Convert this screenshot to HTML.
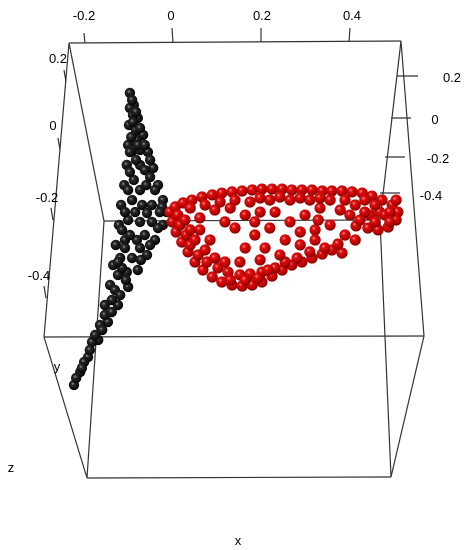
<!DOCTYPE html>
<html><head><meta charset="utf-8"><style>
html,body{margin:0;padding:0;background:#fff;}
svg{display:block;font-family:"Liberation Sans",sans-serif;font-size:13px;}
</style></head><body>
<svg id="chart" width="467" height="550" viewBox="0 0 467 550" xmlns="http://www.w3.org/2000/svg">
<defs>
<radialGradient id="gRed" cx="0.38" cy="0.35" r="0.65">
<stop offset="0" stop-color="#ff9a9a"/><stop offset="0.25" stop-color="#e01010"/><stop offset="0.8" stop-color="#b00000"/><stop offset="1" stop-color="#700000"/>
</radialGradient>
<radialGradient id="gBlk" cx="0.4" cy="0.38" r="0.65">
<stop offset="0" stop-color="#9a9a9a"/><stop offset="0.25" stop-color="#2a2a2a"/><stop offset="1" stop-color="#000"/>
</radialGradient>
</defs>
<g stroke="#333" stroke-width="1.2" fill="none">
<line x1="69" y1="43" x2="401" y2="41"/>
<line x1="104" y1="221" x2="380" y2="220"/>
<line x1="44" y1="337" x2="424" y2="336"/>
<line x1="87" y1="478" x2="391" y2="477"/>
<line x1="69" y1="43" x2="104" y2="221"/>
<line x1="69" y1="43" x2="44" y2="337"/>
<line x1="104" y1="221" x2="87" y2="478"/>
<line x1="44" y1="337" x2="87" y2="478"/>
<line x1="401" y1="41" x2="380" y2="220"/>
<line x1="401" y1="41" x2="424" y2="336"/>
<line x1="380" y1="220" x2="391" y2="477"/>
<line x1="424" y1="336" x2="391" y2="477"/>
</g>
<g stroke="#333" stroke-width="1.2">
<line x1="84" y1="33" x2="85" y2="43"/><line x1="172" y1="28" x2="173" y2="43"/>
<line x1="261" y1="28" x2="261" y2="42"/><line x1="350" y1="28" x2="349" y2="42"/>
</g>
<g text-anchor="middle">
<text x="84" y="20">-0.2</text><text x="171" y="20">0</text><text x="262" y="20">0.2</text><text x="352" y="20">0.4</text>
</g>
<g stroke="#333" stroke-width="1.2">
<line x1="397" y1="76" x2="418" y2="76"/><line x1="391" y1="118" x2="411" y2="118"/>
<line x1="385" y1="157" x2="405" y2="157"/><line x1="380" y1="193" x2="400" y2="193"/>
</g>
<g text-anchor="middle">
<text x="452" y="82">0.2</text><text x="435" y="124">0</text><text x="438" y="163">-0.2</text><text x="431" y="200">-0.4</text>
</g>
<g stroke="#333" stroke-width="1.2">
<line x1="64" y1="70" x2="66" y2="82"/><line x1="58" y1="138" x2="60" y2="150"/>
<line x1="51" y1="208" x2="53" y2="220"/><line x1="44" y1="286" x2="46" y2="298"/>
</g>
<g text-anchor="middle">
<text x="58" y="63">0.2</text><text x="53" y="130">0</text><text x="47" y="202">-0.2</text><text x="39" y="280">-0.4</text>
</g>
<text x="57" y="371" text-anchor="middle">y</text>
<text x="11" y="472" text-anchor="middle">z</text>
<text x="238" y="545" text-anchor="middle">x</text>
<g id="marks"></g>
</svg>
<script>
const blackX=[-0.098,-0.089,-0.080,-0.068,-0.057,-0.045,-0.034,-0.023,-0.014,-0.023,-0.041,-0.059,-0.080,-0.102,-0.125,-0.148,-0.170,-0.193,-0.211,-0.225,
-0.098,-0.100,-0.102,-0.105,-0.111,-0.118,-0.123,-0.130,-0.136,-0.143,-0.155,
-0.084,-0.089,-0.075,-0.089,-0.061,-0.093,-0.070,-0.048,-0.102,-0.075,-0.048,-0.109,-0.082,-0.120,-0.093,-0.125,-0.105,-0.132,-0.166,-0.184,-0.202,-0.075,-0.064,-0.098,-0.064,-0.109,-0.075,-0.116,-0.139,-0.155,-0.177,-0.091,-0.082,
-0.093,-0.084,-0.091,-0.075,-0.095,-0.080,-0.064,-0.098,-0.052,-0.084,-0.098,-0.052,-0.075,-0.041,-0.102,-0.025,-0.109,-0.086,-0.059,-0.030,-0.034,-0.116,-0.052,-0.125,-0.073,-0.107,-0.120,-0.139,-0.161,-0.189,-0.207,-0.220];
const blackZ=[0.132,0.068,0,-0.089,-0.179,-0.263,-0.353,-0.432,-0.495,-0.563,-0.642,-0.721,-0.8,-0.889,-0.984,-1.074,-1.168,-1.258,-1.337,-1.405,
0.053,-0.037,-0.142,-0.247,-0.353,-0.458,-0.563,-0.668,-0.774,-0.879,-0.984,
-0.063,-0.168,-0.247,-0.326,-0.353,-0.432,-0.458,-0.458,-0.537,-0.547,-0.547,-0.642,-0.642,-0.737,-0.737,-0.826,-0.811,-0.905,-1.089,-1.179,-1.284,-0.168,-0.274,-0.616,-0.616,-0.684,-0.684,-0.789,-0.958,-1.037,-1.142,0.016,-0.116,
0.095,0.032,-0.021,-0.053,-0.100,-0.142,-0.142,-0.179,-0.221,-0.221,-0.284,-0.311,-0.379,-0.379,-0.379,-0.468,-0.495,-0.495,-0.500,-0.495,-0.579,-0.589,-0.668,-0.758,-0.747,-0.853,-0.932,-1.021,-1.116,-1.221,-1.316,-1.368];
const redX=[-0.007,0.005,0.023,0.043,0.066,0.089,0.111,0.134,0.157,0.180,0.202,0.225,0.248,0.270,0.293,0.316,0.339,0.361,0.384,0.407,0.430,0.452,0.475,0.498,0.511,0.507,0.489,0.466,0.443,0.416,
-0.002,0.007,0.020,0.034,0.050,0.068,0.089,0.111,0.134,0.157,0.180,0.202,0.225,0.248,0.270,0.293,0.316,0.339,0.361,0.384,
0.039,0.057,0.077,0.102,0.125,0.152,0.175,0.202,0.232,0.255,0.282,0.311,0.345,0.375,
0.118,0.141,0.186,0.220,0.255,0.289,0.323,0.357,0.391,0.425,0.448,0.470,0.414,0.380,0.334,0.300,0.266,0.232,0.198,0.164,0.130,0.095,0.061,0.084,0.164,0.209,0.289,0.323,0.414,0.061,0.152,0.198,0.243,0.482,0.493,0.459,0.436,0.391,0.357,0.311,0.266,0.220,0.175,0.141,
0.011,0.016,0.030,
0.039,0.073,0.107,0.198,0.243,0.289,0.334,0.027,0.039,0.050,0.073,0.095,0.118,0.130,0.164,0.193,0.216,0.402,0.436,0.507,0.459,0.493,0.330,0.186];
const redZ=[-0.495,-0.468,-0.447,-0.432,-0.416,-0.405,-0.395,-0.389,-0.384,-0.379,-0.374,-0.374,-0.374,-0.379,-0.379,-0.379,-0.384,-0.384,-0.384,-0.389,-0.395,-0.411,-0.432,-0.458,-0.495,-0.537,-0.574,-0.589,-0.579,-0.568,
-0.547,-0.6,-0.653,-0.705,-0.758,-0.8,-0.837,-0.863,-0.879,-0.884,-0.879,-0.863,-0.832,-0.8,-0.774,-0.758,-0.737,-0.716,-0.695,-0.711,
-0.668,-0.721,-0.758,-0.789,-0.811,-0.826,-0.821,-0.811,-0.789,-0.758,-0.737,-0.705,-0.684,-0.663,
-0.547,-0.579,-0.616,-0.579,-0.642,-0.6,-0.589,-0.563,-0.616,-0.537,-0.511,-0.495,-0.458,-0.484,-0.474,-0.511,-0.547,-0.495,-0.495,-0.511,-0.474,-0.484,-0.526,-0.642,-0.684,-0.684,-0.668,-0.642,-0.642,-0.589,-0.758,-0.747,-0.721,-0.511,-0.495,-0.458,-0.432,-0.432,-0.432,-0.432,-0.432,-0.432,-0.442,-0.432,
-0.511,-0.563,-0.616,
-0.474,-0.458,-0.442,-0.421,-0.416,-0.421,-0.421,-0.537,-0.589,-0.642,-0.695,-0.737,-0.758,-0.853,-0.853,-0.842,-0.800,-0.511,-0.495,-0.432,-0.547,-0.547,-0.537,-0.547];
function sx(x){return 173+440*x;}
function sz(z){return 118-190*z;}
const NS='http://www.w3.org/2000/svg';
const marks=document.getElementById('marks');
function drawSeries(xs,zs,r,fill,name){
  const g=document.createElementNS(NS,'g');
  
  
  for(let i=0;i<xs.length;i++){
    const c=document.createElementNS(NS,'circle');
    
    
    c.setAttribute('cx',sx(xs[i]).toFixed(1));
    c.setAttribute('cy',sz(zs[i]).toFixed(1));
    c.setAttribute('r',r);
    c.setAttribute('fill',fill);
    g.appendChild(c);
  }
  marks.appendChild(g);
}
drawSeries(blackX,blackZ,5.2,'url(#gBlk)','black-series');
drawSeries(redX,redZ,5.6,'url(#gRed)','red-series');
</script>
</body></html>
